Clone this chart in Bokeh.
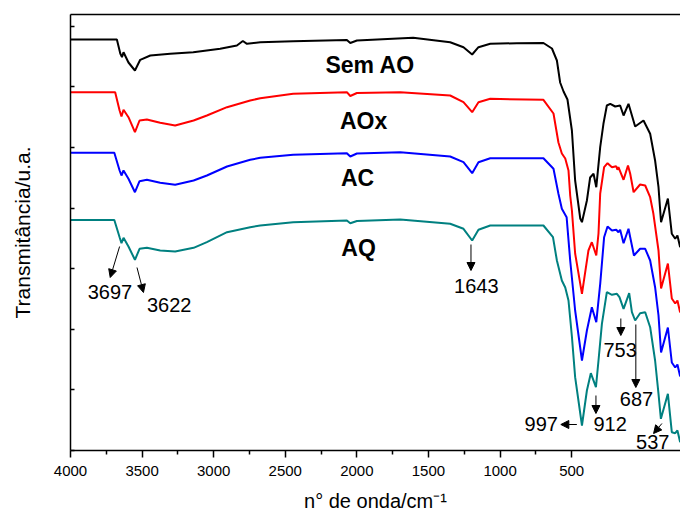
from bokeh.plotting import figure
from bokeh.models import Range1d, LinearAxis, FixedTicker, Label, Arrow, NormalHead, CustomJSTickFormatter
from bokeh.embed import file_html
from bokeh.resources import INLINE

# ---- data: FTIR spectra (wavenumber in cm-1, transmittance in arbitrary offset units)
w_sem = [4000, 3728, 3708, 3698, 3689, 3660, 3622, 3591, 3532, 3415,
         3280, 3122, 3024, 2989, 2965, 2887, 2694, 2379, 2359, 2320,
         1990, 1773, 1695, 1644, 1607, 1538, 1382, 1226, 1176, 1147,
         1128, 1108, 1085, 1059, 1040, 1010, 1000, 971, 952, 932,
         916, 893, 874, 854, 834, 805, 776, 756, 727, 688,
         639, 600, 571, 551, 536, 496, 473, 453, 440, 424]
t_sem = [411, 411, 397, 393.3, 398.3, 388, 380, 390.7, 395, 396.7,
         398.3, 401.7, 405, 409.5, 406.7, 408.3, 409.3, 410.5, 407.5, 410,
         412.7, 408.3, 403.3, 396, 403.3, 406.7, 407.3, 407.5, 402, 390,
         368, 359, 351, 320, 270, 232, 228.3, 250, 273, 276.7,
         263.3, 303.3, 326.7, 345, 346.7, 344, 345, 335, 346.7, 324,
         330, 316.7, 290, 263.3, 228.3, 252, 216.7, 211.7, 215, 203.3]

w_aox = [4000, 3738, 3712, 3701, 3689, 3660, 3622, 3595, 3552, 3474,
         3386, 3278, 3200, 3082, 2946, 2887, 2694, 2379, 2359, 2320,
         2066, 1773, 1695, 1644, 1607, 1538, 1226, 1167, 1138, 1118,
         1098, 1079, 1069, 1059, 1040, 1000, 962, 942, 916, 903,
         893, 870, 850, 824, 799, 792, 786, 756, 730, 717,
         697, 659, 629, 600, 581, 551, 536, 496, 473, 453, 440, 424]
t_aox = [358.3, 358.3, 340, 334, 340.7, 333.3, 318.3, 330, 331, 327.7,
         325, 330, 335, 343.3, 350, 352.3, 356.7, 358.3, 354.5, 357.5,
         358.3, 355, 348.3, 338.3, 348.3, 351.7, 350.7, 337, 308, 297,
         292, 280, 255, 240, 197, 156.7, 200, 208.3, 195, 217,
         257, 283.3, 287.3, 283.3, 284.3, 280.7, 283.3, 270.7, 285, 276.7,
         258.3, 266, 265, 253.3, 236.7, 200, 162, 187, 152, 147, 150, 138]

w_ac = [4000, 3743, 3712, 3701, 3689, 3660, 3622, 3595, 3552, 3474,
        3386, 3278, 3200, 3082, 2946, 2887, 2694, 2379, 2359, 2320,
        2066, 1773, 1695, 1644, 1607, 1538, 1226, 1167, 1138, 1118,
        1090, 1069, 1040, 1000, 971, 942, 916, 893, 870, 850,
        824, 799, 786, 776, 756, 727, 717, 695, 659, 629,
        600, 571, 551, 536, 496, 473, 453, 440, 424]
t_ac = [297.7, 297.7, 280, 275, 280, 271.7, 258.3, 269.3, 270.7, 267.7,
        265.7, 270, 275, 284, 290.7, 292.7, 295.7, 297.3, 294, 297,
        298.3, 294, 288.3, 277.3, 288.3, 292.3, 292.3, 281.7, 256.7, 241.7,
        233.3, 190, 140, 90, 120, 143.3, 128.3, 166.7, 213.3, 224,
        220, 220.7, 218.3, 220.7, 207.3, 221.7, 213.3, 195, 201.7, 201.7,
        190, 163.3, 135, 98, 123, 88, 83, 86, 74]

w_aq = [4000, 3743, 3712, 3701, 3689, 3660, 3622, 3595, 3552, 3474,
        3386, 3278, 3200, 3082, 2946, 2887, 2694, 2379, 2359, 2320,
        2066, 1773, 1695, 1644, 1607, 1538, 1226, 1170, 1147, 1118,
        1098, 1079, 1059, 1040, 1000, 971, 948, 918, 903, 883,
        854, 824, 795, 780, 756, 723, 707, 688, 659, 629,
        600, 571, 551, 537, 496, 473, 453, 440, 424]
t_aq = [230.5, 230.5, 213.3, 207.3, 212.7, 204, 190.7, 201.7, 202.7, 200,
        199, 202.7, 208.3, 218.3, 223.3, 225, 228.3, 230, 227.3, 229.5,
        231, 226.7, 221.7, 210, 220.7, 225, 225, 213.3, 190, 170,
        163, 150, 114, 73.3, 25, 60, 77.3, 63.3, 90, 126.7,
        158.3, 155.7, 156.7, 153.3, 141.7, 157.3, 138.3, 130, 137.3, 138.3,
        123.3, 90, 56.7, 31.7, 56.7, 18.3, 17.3, 20, 8.3]

series_names = ["Sem AO", "AOx", "AC", "AQ"]
series_w = [w_sem, w_aox, w_ac, w_aq]
series_t = [t_sem, t_aox, t_ac, t_aq]
series_colors = ["#000000", "#ff0000", "#0000ff", "#008080"]

# axis tick labels
x_ticks = [4000, 3500, 3000, 2500, 2000, 1500, 1000, 500]
x_minor = [3750, 3250, 2750, 2250, 1750, 1250, 750]

# band annotations: label, arrow tail, arrow head, label position (data coords)
bands = [
    ("3697", (3712, 204), (3767, 173), (3769, 159)),
    ("3622", (3610, 183), (3572, 158), (3421, 146)),
    ("1643", (1651, 206), (1651, 180), (1620, 165)),
    ("753", (772, 132), (772, 115), (776, 101)),
    ("687", (684, 126), (684, 63), (680, 52)),
    ("912", (918, 55), (918, 37), (835, 27)),
    ("997", (1030, 26), (1124, 26), (1239, 27)),
    ("537", (531, 27), (580, 17), (585, 9)),
]
# series name labels (data coords)
name_pos = [(2242, 386), (2281, 330), (2316, 273), (2310, 203)]

FONT = "Liberation Sans"

p = figure(width=680, height=515, output_backend="svg", toolbar_location=None,
           x_range=Range1d(4000, 422), y_range=Range1d(0, 436),
           x_axis_location=None, min_border_left=70, min_border_right=0,
           min_border_top=14, min_border_bottom=65)
p.outline_line_color = None
p.grid.visible = False
p.background_fill_color = "white"
p.border_fill_color = "white"

for wv, tv, c in zip(series_w, series_t, series_colors):
    p.line(wv, tv, line_color=c, line_width=2)

p.extra_x_ranges = {"ticks": Range1d(4000, -260)}
xa = LinearAxis(x_range_name="ticks",
                ticker=FixedTicker(ticks=x_ticks, minor_ticks=x_minor),
                axis_label="n° de onda/cm⁻¹")
xa.axis_line_width = 1.5
xa.major_tick_line_width = 1.5
xa.minor_tick_line_width = 1.5
xa.major_tick_out = 7
xa.major_tick_in = 0
xa.minor_tick_out = 4
xa.minor_tick_in = 0
xa.major_label_text_font = FONT
xa.major_label_text_font_size = "15px"
xa.major_label_text_color = "black"
xa.major_label_standoff = 8
xa.axis_label_text_font = FONT
xa.axis_label_text_font_size = "20px"
xa.axis_label_text_font_style = "normal"
xa.axis_label_text_color = "black"
xa.axis_label_standoff = 11
p.add_layout(xa, "below")

top = LinearAxis(ticker=FixedTicker(ticks=[]), formatter=CustomJSTickFormatter(code="return ''"),
                 major_tick_out=0, minor_tick_out=0, axis_line_width=1.5)
p.add_layout(top, "above")

ya = p.yaxis[0]
ya.ticker = FixedTicker(ticks=[60.6 * i for i in range(8)], minor_ticks=[])
ya.formatter = CustomJSTickFormatter(code="return ''")
ya.major_tick_in = 4
ya.major_tick_out = 0
ya.major_tick_line_width = 1.5
ya.minor_tick_line_color = None
ya.axis_line_width = 1.5
ya.axis_label = "Transmitância/u.a."
ya.axis_label_text_font = FONT
ya.axis_label_text_font_size = "21px"
ya.axis_label_text_font_style = "normal"
ya.axis_label_text_color = "black"
ya.axis_label_standoff = 37

for name, (nx, ny) in zip(series_names, name_pos):
    p.add_layout(Label(x=nx, y=ny, text=name, text_font=FONT, text_font_size="23px",
                       text_font_style="bold", text_color="black",
                       text_align="center", text_baseline="middle"))

for txt, (x0, y0), (x1, y1), (lx, ly) in bands:
    p.add_layout(Arrow(x_start=x0, y_start=y0, x_end=x1, y_end=y1, line_width=1,
                       end=NormalHead(size=8, fill_color="black", line_color="black")))
    p.add_layout(Label(x=lx, y=ly, text=txt, text_font=FONT, text_font_size="20px",
                       text_color="black", text_align="center", text_baseline="middle"))

open("out.html", "w").write(file_html(p, INLINE))
